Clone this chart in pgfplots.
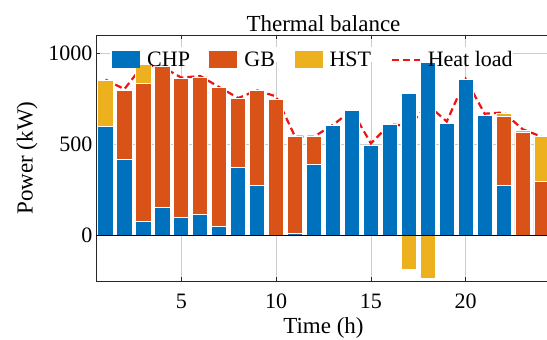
\documentclass[border=0pt]{standalone}
\usepackage{pgfplots}
\pgfplotsset{compat=1.18}
\usepackage{fontspec}
\setmainfont{Liberation Serif}
\definecolor{mblue}{rgb}{0,0.447,0.741}
\definecolor{morange}{rgb}{0.85,0.325,0.098}
\definecolor{myellow}{rgb}{0.929,0.694,0.125}
\definecolor{mgrid}{rgb}{0.80,0.80,0.80}
\definecolor{mred}{rgb}{0.93,0.08,0.08}
\pgfplotsset{
  barleg/.style={legend image code/.code={\fill[##1, draw=none] (0bp,-8.5bp) rectangle (28bp,8.5bp);}},
  lineleg/.style={legend image code/.code={\draw[##1] (0bp,0bp) -- (28bp,0bp);}},
}

\pgfplotstableread{
t chp gb hst
1 600 0 251
2 415 380 0
3 75 758 104
4 156 769 0
5 101 763 0
6 114 756 0
7 51 763 0
8 373 381 0
9 276 520 0
10 0 744 0
11 13 529 0
12 392 150 0
13 605 0 0
14 684 0 0
15 493 0 0
16 607 0 0
17 781 0 0
18 952 0 0
19 616 0 0
20 858 0 0
21 658 0 0
22 276 380 15
23 0 564 12
24 0 294 248
}\mixdata

\pgfplotstableread{
t hst
17 -188
18 -235
}\negdata

\pgfplotstableread{
t load
1 855
2 803
3 937
4 925
5 866
6 875
7 814
8 754
9 796
10 763
11 542
12 542
13 607
14 686
15 505
16 610
17 600
18 717
19 625
20 858
21 668
22 675
23 583
24 542
}\loaddata

\begin{document}
\begin{tikzpicture}
\useasboundingbox (0bp,0bp) rectangle (547bp,340bp);
\begin{axis}[
  at={(96bp,59bp)}, anchor=south west,
  scale only axis, width=455bp, height=246bp,
  xmin=0.5, xmax=24.5, ymin=-250, ymax=1100,
  xtick={5,10,15,20}, ytick={0,500,1000},
  ybar stacked, bar width=0.8,
  /pgf/number format/assume math mode=true,
  /pgf/number format/1000 sep={},
  tick label style={font=\fontsize{22bp}{26bp}\selectfont},
  xticklabel style={anchor=base, yshift=-27bp},
  label style={font=\fontsize{23bp}{27bp}\selectfont},
  title style={font=\fontsize{23bp}{27bp}\selectfont, yshift=-6bp},
  title={Thermal balance},
  xlabel={Time (h)}, ylabel={Power (kW)},
  xlabel style={at={(rel axis cs:0.5,0)}, anchor=base, yshift=-52bp},
  ylabel style={yshift=4bp},
  tick align=inside, major tick length=4bp,
  axis line style={black!85, line width=0.7bp},
  tick style={black!85, line width=0.7bp},
  xmajorgrids, ymajorgrids, major grid style={draw=mgrid, line width=0.7bp},
  legend columns=4,
  legend style={at={(rel axis cs:0.033,0.946)}, anchor=north west,
    draw=none, fill=none, inner sep=1bp,
    font=\fontsize{22bp}{26bp}\selectfont,
    /tikz/every odd column/.append style={column sep=5bp},
    /tikz/every even column/.append style={column sep=17.5bp}},
]
\fill[white] (axis cs:1.24,950) rectangle (axis cs:22.5,1036);
\addplot[black, line width=1bp, sharp plot, stack plots=false, forget plot] coordinates {(0.5,0) (24.5,0)};
\addplot[fill=mblue, draw=white, line width=0.8bp, barleg] table[x=t,y=chp]{\mixdata};
\addlegendentry{CHP}
\addplot[fill=morange, draw=white, line width=0.8bp, barleg] table[x=t,y=gb]{\mixdata};
\addlegendentry{GB}
\addplot[fill=myellow, draw=white, line width=0.8bp, barleg] table[x=t,y=hst]{\mixdata};
\addlegendentry{HST}
\addplot[fill=myellow, draw=white, line width=0.8bp, stack plots=false, forget plot] table[x=t,y=hst]{\negdata};
\addplot[mred, line width=2.2bp, dash pattern=on 7bp off 4bp, sharp plot, stack plots=false, lineleg] table[x=t,y=load]{\loaddata};
\addlegendentry{Heat load}
\end{axis}
\end{tikzpicture}
\end{document}
